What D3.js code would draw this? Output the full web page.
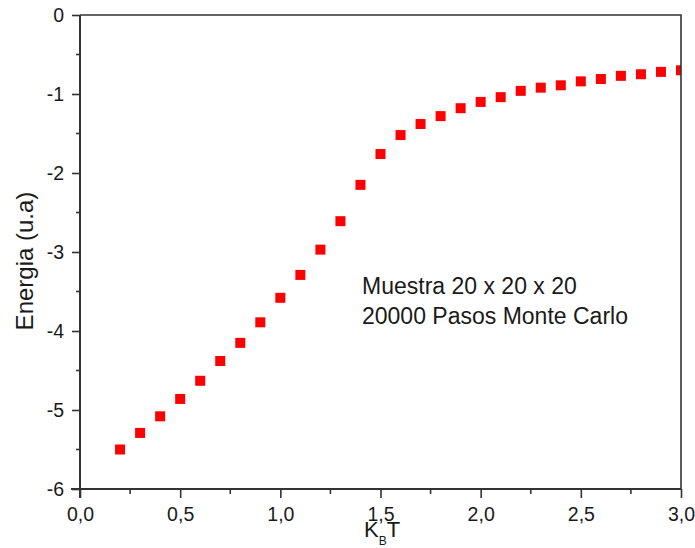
<!DOCTYPE html>
<html>
<head>
<meta charset="utf-8">
<script src="https://cdn.jsdelivr.net/npm/d3@7"></script>
<style>
  body { margin: 0; background: #fff; }
  svg { display: block; }
  text { font-family: "Liberation Sans", Arial, sans-serif; fill: #1a1a1a; }
</style>
</head>
<body>
<svg id="chart" width="695" height="548"></svg>
<script>
// Temperature values (k_B T) and mean energy per site
const temperature = [0.2, 0.3, 0.4, 0.5, 0.6, 0.7, 0.8, 0.9, 1.0, 1.1, 1.2, 1.3, 1.4, 1.5,
  1.6, 1.7, 1.8, 1.9, 2.0, 2.1, 2.2, 2.3, 2.4, 2.5, 2.6, 2.7, 2.8, 2.9, 3.0];
const energy = [-5.50, -5.29, -5.08, -4.86, -4.63, -4.38, -4.15, -3.89, -3.58, -3.29, -2.97,
  -2.61, -2.15, -1.76, -1.52, -1.38, -1.28, -1.18, -1.10, -1.04, -0.96, -0.92, -0.89,
  -0.84, -0.81, -0.77, -0.75, -0.72, -0.70];
const xTicks = [0.0, 0.5, 1.0, 1.5, 2.0, 2.5, 3.0];
const xMinorTicks = [0.25, 0.75, 1.25, 1.75, 2.25, 2.75];
const yTicks = [0, -1, -2, -3, -4, -5, -6];
const yMinorTicks = [-0.5, -1.5, -2.5, -3.5, -4.5, -5.5];
const noteLines = ["Muestra 20 x 20 x 20", "20000 Pasos Monte Carlo"];

const svg = d3.select("#chart");
const plotLeft = 80, plotRight = 681, plotTop = 15, plotBottom = 489;

const x = d3.scaleLinear().domain([0, 3]).range([plotLeft, plotRight]);
const y = d3.scaleLinear().domain([-6, 0]).range([plotBottom, plotTop]);
const fmtX = d => d.toFixed(1).replace(".", ",");
const fmtY = d => String(d);

svg.append("defs").append("clipPath").attr("id", "plot-clip")
  .append("rect").attr("x", plotLeft).attr("y", plotTop)
  .attr("width", plotRight - plotLeft).attr("height", plotBottom - plotTop);

// Data markers
svg.append("g").attr("clip-path", "url(#plot-clip)")
  .selectAll("rect").data(temperature).join("rect")
  .attr("x", (d, i) => x(d) - 5)
  .attr("y", (d, i) => y(energy[i]) - 5)
  .attr("width", 10).attr("height", 10)
  .attr("fill", "#ff0000");

// Frame (top and right)
svg.append("path")
  .attr("d", `M${plotLeft},${plotTop}H${plotRight}V${plotBottom}`)
  .attr("fill", "none").attr("stroke", "#333").attr("stroke-width", 1.6);

// Bottom axis
const gx = svg.append("g").attr("transform", `translate(0,${plotBottom})`);
gx.call(d3.axisBottom(x).tickValues(xTicks).tickSize(9).tickSizeOuter(0).tickFormat(fmtX));
gx.selectAll(".tick text").attr("y", 18).attr("font-size", 19.5)
  .attr("font-family", "Liberation Sans, Arial, sans-serif").attr("fill", "#1a1a1a");
gx.append("g").selectAll("line").data(xMinorTicks).join("line")
  .attr("x1", d => x(d)).attr("x2", d => x(d)).attr("y1", 0).attr("y2", 5);
gx.selectAll("line").attr("stroke", "#333").attr("stroke-width", 1.6);
gx.select(".domain").attr("stroke", "#333").attr("stroke-width", 2)
  .attr("d", `M${plotLeft - 9},0H${plotRight}`);

// Left axis
const gy = svg.append("g").attr("transform", `translate(${plotLeft},0)`);
gy.call(d3.axisLeft(y).tickValues(yTicks).tickSize(8).tickSizeOuter(0).tickFormat(fmtY));
gy.selectAll(".tick text").attr("x", -16).attr("font-size", 19.5)
  .attr("font-family", "Liberation Sans, Arial, sans-serif").attr("fill", "#1a1a1a");
gy.append("g").selectAll("line").data(yMinorTicks).join("line")
  .attr("y1", d => y(d)).attr("y2", d => y(d)).attr("x1", 0).attr("x2", -4);
gy.selectAll("line").attr("stroke", "#333").attr("stroke-width", 1.6);
gy.select(".domain").attr("stroke", "#333").attr("stroke-width", 2)
  .attr("d", `M0,${plotTop}V${plotBottom + 9}`);

// Axis titles
svg.append("text")
  .attr("transform", "translate(33,261) rotate(-90)")
  .attr("text-anchor", "middle").attr("font-size", 24)
  .text("Energia (u.a)");

const xt = svg.append("text").attr("x", 364).attr("y", 537).attr("font-size", 22);
xt.append("tspan").text("K");
xt.append("tspan").attr("dy", 8).attr("font-size", 12).text("B");
xt.append("tspan").attr("dy", -8).text("T");

// Annotation
svg.append("g").selectAll("text").data(noteLines).join("text")
  .attr("x", 362).attr("y", (d, i) => 294 + i * 30)
  .attr("font-size", 23)
  .text(d => d);
</script>
</body>
</html>
